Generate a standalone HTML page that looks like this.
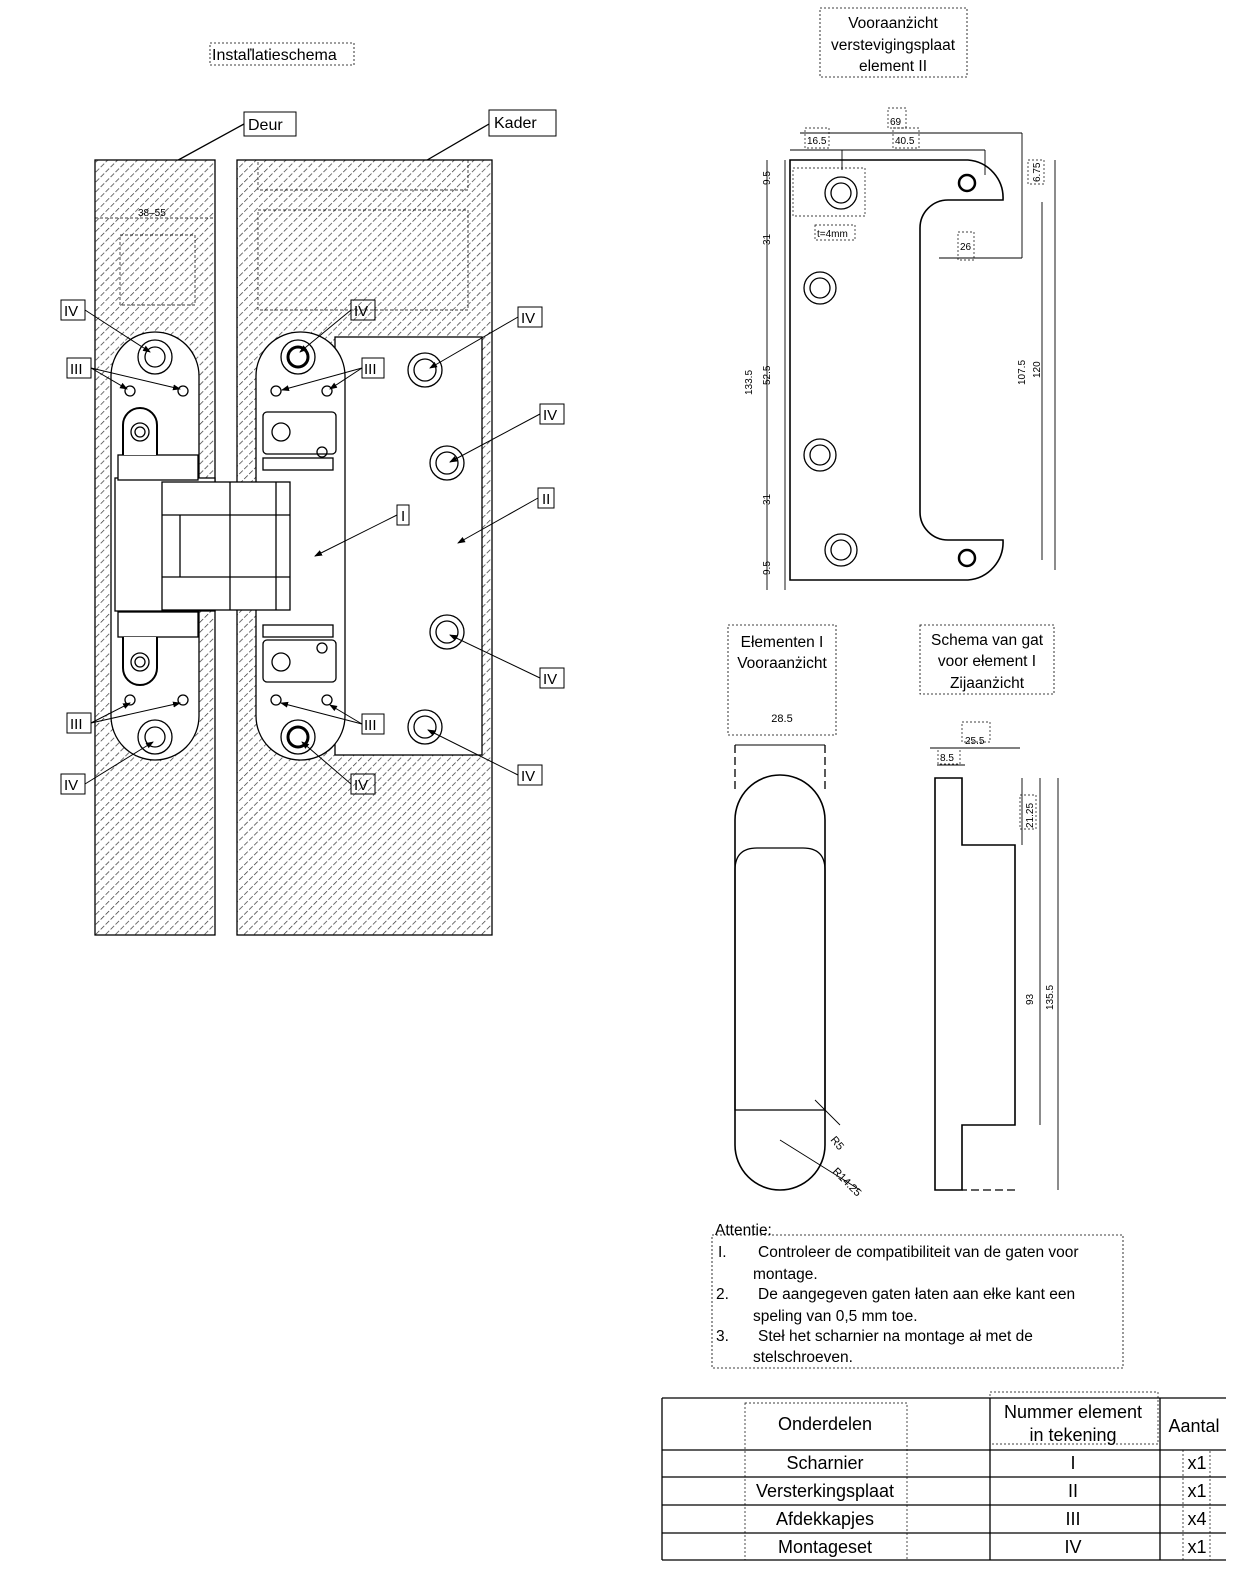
<!DOCTYPE html>
<html><head><meta charset="utf-8"><style>
html,body{margin:0;padding:0;background:#fff;}
svg{display:block;font-family:"Liberation Sans",sans-serif;}
</style></head><body>
<svg width="1245" height="1592" viewBox="0 0 1245 1592" xmlns="http://www.w3.org/2000/svg">
<defs>
<pattern id="h" width="7" height="7" patternUnits="userSpaceOnUse" patternTransform="rotate(45)">
<rect width="7" height="7" fill="#fff"/><line x1="0" y1="0" x2="0" y2="7" stroke="#333" stroke-width="1.4" stroke-dasharray="5 2"/>
</pattern>
<marker id="a" markerWidth="8" markerHeight="8" refX="7" refY="4" orient="auto"><path d="M0,1 L8,4 L0,7Z" fill="#000"/></marker>
</defs>
<g stroke="#000" fill="none" stroke-width="1.3">
<text x="212" y="60" font-size="16" fill="#000" stroke="none">Instaľlatieschema</text>
<rect x="210" y="43" width="144" height="22" stroke-dasharray="2 2" stroke-width="0.8"/>
<rect x="244" y="112" width="52" height="24" stroke-width="1"/>
<text x="248" y="130" font-size="16" fill="#000" stroke="none">Deur</text>
<rect x="489" y="110" width="67" height="26" stroke-width="1"/>
<text x="494" y="128" font-size="16" fill="#000" stroke="none">Kader</text>
<line x1="244" y1="124" x2="160" y2="170"/><line x1="489" y1="124" x2="410" y2="170"/>
<rect x="95" y="160" width="120" height="775" fill="url(#h)"/>
<rect x="237" y="160" width="255" height="775" fill="url(#h)"/>
<g stroke-width="0.7" stroke-dasharray="3 2"><rect x="258" y="160" width="210" height="30"/><rect x="258" y="210" width="210" height="100"/><rect x="120" y="235" width="75" height="70"/><line x1="95" y1="218" x2="215" y2="218"/></g>
<text x="138" y="216" font-size="10" fill="#000" stroke="none">38–55</text>
<rect x="335" y="337" width="147" height="418" fill="#fff"/>
<rect x="111" y="332" width="88" height="428" rx="44" fill="#fff"/>
<rect x="256" y="332" width="89" height="428" rx="44" fill="#fff"/>
<rect x="115" y="478" width="100" height="133" fill="#fff"/>
<rect x="162" y="482" width="128" height="128" fill="#fff"/>
<line x1="162" y1="515" x2="290" y2="515"/><line x1="162" y1="577" x2="290" y2="577"/>
<line x1="230" y1="482" x2="230" y2="610"/><line x1="180" y1="515" x2="180" y2="577"/><line x1="276" y1="482" x2="276" y2="610"/>
<rect x="118" y="455" width="80" height="25" fill="#fff"/><rect x="118" y="612" width="80" height="25" fill="#fff"/>
<path d="M123,455 V425 a17,17 0 0 1 34,0 V455" stroke-width="2" fill="#fff"/>
<path d="M123,637 V668 a17,17 0 0 0 34,0 V637" stroke-width="2" fill="#fff"/>
<circle cx="140" cy="432" r="9"/><circle cx="140" cy="432" r="5"/>
<circle cx="140" cy="662" r="9"/><circle cx="140" cy="662" r="5"/>
<rect x="263" y="412" width="73" height="42" rx="4" fill="#fff"/><rect x="263" y="640" width="73" height="42" rx="4" fill="#fff"/>
<circle cx="281" cy="432" r="9"/><circle cx="281" cy="662" r="9"/><circle cx="322" cy="452" r="5"/><circle cx="322" cy="648" r="5"/>
<rect x="263" y="458" width="70" height="12"/><rect x="263" y="625" width="70" height="12"/>
<g>
<circle cx="155" cy="357" r="17"/><circle cx="155" cy="357" r="10"/>
<circle cx="155" cy="737" r="17"/><circle cx="155" cy="737" r="10"/>
<circle cx="298" cy="357" r="17"/><circle cx="298" cy="357" r="10" stroke-width="3"/>
<circle cx="298" cy="737" r="17"/><circle cx="298" cy="737" r="10" stroke-width="3"/>
<circle cx="425" cy="370" r="17"/><circle cx="425" cy="370" r="11"/>
<circle cx="447" cy="463" r="17"/><circle cx="447" cy="463" r="11"/>
<circle cx="447" cy="632" r="17"/><circle cx="447" cy="632" r="11"/>
<circle cx="425" cy="727" r="17"/><circle cx="425" cy="727" r="11"/>
<circle cx="130" cy="391" r="5"/><circle cx="183" cy="391" r="5"/><circle cx="130" cy="700" r="5"/><circle cx="183" cy="700" r="5"/>
<circle cx="276" cy="391" r="5"/><circle cx="327" cy="391" r="5"/><circle cx="276" cy="700" r="5"/><circle cx="327" cy="700" r="5"/>
</g>
<g font-size="15" stroke-width="1">
<rect x="61" y="300" width="24" height="20"/><rect x="67" y="358" width="24" height="20"/><rect x="67" y="713" width="24" height="20"/><rect x="61" y="774" width="24" height="20"/>
<rect x="351" y="300" width="24" height="20"/><rect x="362" y="358" width="22" height="20"/><rect x="362" y="714" width="22" height="20"/><rect x="351" y="774" width="24" height="20"/>
<rect x="518" y="307" width="24" height="20"/><rect x="540" y="404" width="24" height="20"/><rect x="397" y="505" width="12" height="20"/><rect x="538" y="488" width="16" height="20"/><rect x="540" y="668" width="24" height="20"/><rect x="518" y="765" width="24" height="20"/>
</g>
<g stroke-width="1" marker-end="url(#a)">
<line x1="85" y1="310" x2="150" y2="352"/><line x1="91" y1="368" x2="127" y2="389"/><line x1="91" y1="368" x2="180" y2="389"/>
<line x1="91" y1="723" x2="130" y2="703"/><line x1="91" y1="723" x2="180" y2="703"/><line x1="85" y1="784" x2="153" y2="742"/>
<line x1="351" y1="310" x2="300" y2="352"/><line x1="362" y1="368" x2="282" y2="390"/><line x1="362" y1="368" x2="330" y2="389"/>
<line x1="362" y1="724" x2="281" y2="703"/><line x1="362" y1="724" x2="330" y2="705"/><line x1="351" y1="784" x2="302" y2="742"/>
<line x1="518" y1="317" x2="430" y2="368"/><line x1="540" y1="414" x2="450" y2="462"/><line x1="397" y1="515" x2="315" y2="556"/>
<line x1="538" y1="498" x2="458" y2="543"/><line x1="540" y1="678" x2="450" y2="635"/><line x1="518" y1="775" x2="428" y2="730"/>
</g>
<g font-size="15" fill="#000" stroke="none">
<text x="64" y="316">IV</text><text x="70" y="374">III</text><text x="70" y="729">III</text><text x="64" y="790">IV</text>
<text x="354" y="316">IV</text><text x="364" y="374">III</text><text x="364" y="730">III</text><text x="354" y="790">IV</text>
<text x="521" y="323">IV</text><text x="543" y="420">IV</text><text x="401" y="521">I</text><text x="542" y="504">II</text><text x="543" y="684">IV</text><text x="521" y="781">IV</text>
</g>
<rect x="820" y="8" width="147" height="69" stroke-dasharray="2 2" stroke-width="0.8"/>
<g font-size="15.5" fill="#000" stroke="none" text-anchor="middle">
<text x="893" y="28">Vooraanżicht</text><text x="893" y="50">verstevigingsplaat</text><text x="893" y="71">element II</text>
</g>
<path d="M790,160 H968 A38,38 0 0 1 1003,200 H948 A28,28 0 0 0 920,228 V512 A28,28 0 0 0 948,540 H1003 A38,38 0 0 1 968,580 H790 Z" stroke-width="1.6"/>
<g>
<circle cx="841" cy="193" r="16"/><circle cx="841" cy="193" r="10"/>
<circle cx="820" cy="288" r="16"/><circle cx="820" cy="288" r="10"/>
<circle cx="820" cy="455" r="16"/><circle cx="820" cy="455" r="10"/>
<circle cx="841" cy="550" r="16"/><circle cx="841" cy="550" r="10"/>
<circle cx="967" cy="183" r="8" stroke-width="2.5"/><circle cx="967" cy="558" r="8" stroke-width="2.5"/>
</g>
<g stroke-width="0.9">
<line x1="800" y1="133" x2="1022" y2="133"/><line x1="790" y1="150" x2="985" y2="150"/>
<line x1="767" y1="160" x2="767" y2="590"/><line x1="785" y1="160" x2="785" y2="590"/>
<line x1="1042" y1="202" x2="1042" y2="560"/><line x1="1055" y1="160" x2="1055" y2="570"/>
<line x1="1022" y1="133" x2="1022" y2="258"/><line x1="939" y1="258" x2="1022" y2="258"/>
<line x1="842" y1="150" x2="842" y2="170"/><line x1="985" y1="150" x2="985" y2="175"/>
</g>
<g stroke-width="0.7" stroke-dasharray="2 2">
<rect x="888" y="108" width="18" height="20"/><rect x="805" y="128" width="24" height="20"/><rect x="893" y="128" width="26" height="20"/>
<rect x="793" y="168" width="72" height="48"/><rect x="815" y="225" width="40" height="15"/><rect x="958" y="232" width="16" height="28"/>
<rect x="1028" y="160" width="16" height="24"/>
</g>
<g font-size="10" fill="#000" stroke="none">
<text x="890" y="125">69</text><text x="807" y="144">16.5</text><text x="895" y="144">40.5</text><text x="817" y="237">t=4mm</text><text x="960" y="250">26</text>
<text transform="translate(770,185) rotate(-90)">9.5</text><text transform="translate(770,245) rotate(-90)">31</text>
<text transform="translate(752,395) rotate(-90)">133.5</text><text transform="translate(770,385) rotate(-90)">52.5</text>
<text transform="translate(770,505) rotate(-90)">31</text><text transform="translate(770,575) rotate(-90)">9.5</text>
<text transform="translate(1025,385) rotate(-90)">107.5</text><text transform="translate(1040,378) rotate(-90)">120</text>
<text transform="translate(1040,182) rotate(-90)">6.75</text>
</g>
<rect x="728" y="625" width="108" height="110" stroke-dasharray="2 2" stroke-width="0.8"/>
<g font-size="15.5" fill="#000" stroke="none" text-anchor="middle"><text x="782" y="647">Ełementen I</text><text x="782" y="668">Vooraanżicht</text><text x="782" y="722" font-size="11">28.5</text></g>
<line x1="735" y1="745" x2="825" y2="745" stroke-width="0.9"/>
<line x1="735" y1="745" x2="735" y2="790" stroke-dasharray="8 4"/><line x1="825" y1="745" x2="825" y2="790" stroke-dasharray="8 4"/>
<rect x="735" y="775" width="90" height="415" rx="45" stroke-width="1.6"/>
<path d="M735,870 Q735,848 757,848 H803 Q825,848 825,870 V1110 H735 Z" stroke-width="1.3"/>
<line x1="780" y1="1140" x2="860" y2="1190" stroke-width="0.9"/><line x1="815" y1="1100" x2="840" y2="1125" stroke-width="0.9"/>
<text x="830" y="1140" font-size="11" fill="#000" stroke="none" transform="rotate(50 830 1140)">R5</text>
<text x="832" y="1172" font-size="11" fill="#000" stroke="none" transform="rotate(45 832 1172)">R14.25</text>
<rect x="920" y="625" width="134" height="69" stroke-dasharray="2 2" stroke-width="0.8"/>
<g font-size="15.5" fill="#000" stroke="none" text-anchor="middle"><text x="987" y="645">Schema van gat</text><text x="987" y="666">voor ełement I</text><text x="987" y="688">Zijaanżicht</text></g>
<path d="M935,778 H962 V845 H1015 V1125 H962 V1190 H935 Z" stroke-width="1.6"/>
<line x1="1015" y1="1190" x2="962" y2="1190" stroke-dasharray="8 4"/>
<g stroke-width="0.9">
<line x1="930" y1="748" x2="1020" y2="748"/><line x1="937" y1="765" x2="965" y2="765"/>
<line x1="1040" y1="778" x2="1040" y2="1125"/><line x1="1058" y1="778" x2="1058" y2="1190"/>
<line x1="1022" y1="778" x2="1022" y2="845"/>
</g>
<g stroke-width="0.7" stroke-dasharray="2 2"><rect x="962" y="722" width="28" height="20"/><rect x="938" y="748" width="22" height="16"/><rect x="1020" y="795" width="16" height="34"/></g>
<g font-size="10" fill="#000" stroke="none"><text x="965" y="744">25.5</text><text x="940" y="761">8.5</text>
<text transform="translate(1033,828) rotate(-90)">21.25</text><text transform="translate(1033,1005) rotate(-90)">93</text><text transform="translate(1053,1010) rotate(-90)">135.5</text></g>
<rect x="712" y="1235" width="411" height="133" stroke-dasharray="2 2" stroke-width="0.8"/>
<g font-size="15.5" fill="#000" stroke="none">
<text x="715" y="1235">Attentie:</text>
<text x="718" y="1257">I.</text><text x="758" y="1257">Controleer de compatibiliteit van de gaten voor</text><text x="753" y="1279">montage.</text>
<text x="716" y="1299">2.</text><text x="758" y="1299">De aangegeven gaten łaten aan ełke kant een</text><text x="753" y="1321">speling van 0,5 mm toe.</text>
<text x="716" y="1341">3.</text><text x="758" y="1341">Steł het scharnier na montage ał met de</text><text x="753" y="1362">stelschroeven.</text>
</g>
<g stroke-width="1.3">
<line x1="662" y1="1398" x2="1226" y2="1398"/><line x1="662" y1="1450" x2="1226" y2="1450"/><line x1="662" y1="1477" x2="1226" y2="1477"/>
<line x1="662" y1="1505" x2="1226" y2="1505"/><line x1="662" y1="1533" x2="1226" y2="1533"/><line x1="662" y1="1560" x2="1226" y2="1560"/>
<line x1="662" y1="1398" x2="662" y2="1560"/><line x1="990" y1="1398" x2="990" y2="1560"/><line x1="1160" y1="1398" x2="1160" y2="1560"/>
</g>
<g stroke-width="0.7" stroke-dasharray="2 2"><rect x="745" y="1403" width="162" height="157"/><rect x="990" y="1392" width="168" height="52"/><rect x="1183" y="1450" width="27" height="110"/></g>
<g font-size="18" fill="#000" stroke="none" text-anchor="middle">
<text x="825" y="1430">Onderdelen</text><text x="1073" y="1418">Nummer element</text><text x="1073" y="1441">in tekening</text><text x="1194" y="1432">Aantal</text>
<text x="825" y="1469">Scharnier</text><text x="825" y="1497">Versterkingsplaat</text><text x="825" y="1525">Afdekkapjes</text><text x="825" y="1553">Montageset</text>
<text x="1073" y="1469">I</text><text x="1073" y="1497">II</text><text x="1073" y="1525">III</text><text x="1073" y="1553">IV</text>
<text x="1197" y="1469">x1</text><text x="1197" y="1497">x1</text><text x="1197" y="1525">x4</text><text x="1197" y="1553">x1</text>
</g>
</g>
</svg>
</body></html>
